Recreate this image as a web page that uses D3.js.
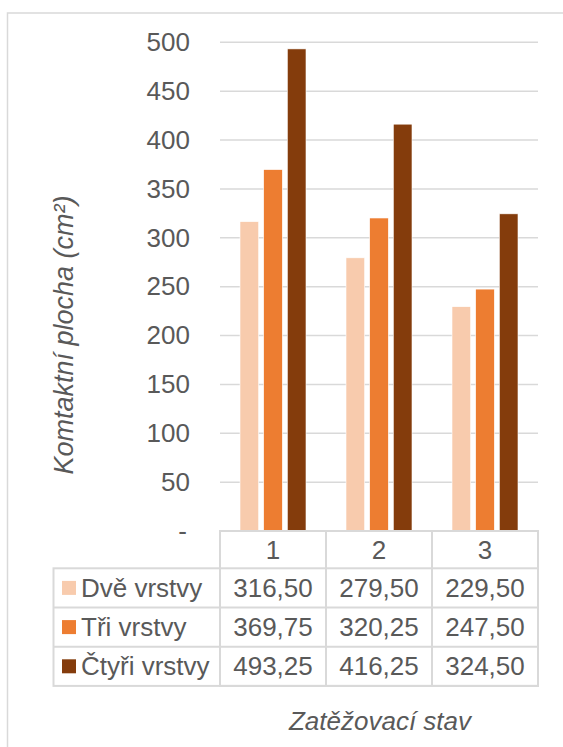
<!DOCTYPE html>
<html>
<head>
<meta charset="utf-8">
<script src="https://cdn.jsdelivr.net/npm/d3@7"></script>
<style>
	body { margin: 0; background: #fff; }
	svg text { font-family: "Liberation Sans", Arial, sans-serif; fill: #595959; }
</style>
</head>
<body>
<div id="chart"></div>
<script>
// data
var categories = ["1", "2", "3"];
var seriesNames = ["Dvě vrstvy", "Tři vrstvy", "Čtyři vrstvy"];
var dveVrstvy = [316.50, 279.50, 229.50];
var triVrstvy = [369.75, 320.25, 247.50];
var ctyriVrstvy = [493.25, 416.25, 324.50];
var yTicks = [0, 50, 100, 150, 200, 250, 300, 350, 400, 450, 500];
var colors = ["#F8CBAD", "#ED7D31", "#843C0C"];

var seriesValues = [dveVrstvy, triVrstvy, ctyriVrstvy];

var width = 563, height = 747;
var fontSize = 26;
var gridColor = "#d9d9d9";

var svg = d3.select("#chart").append("svg")
	.attr("width", width)
	.attr("height", height);

//chart border (runs off the right and bottom edge)
svg.append("rect")
	.attr("x", 7.5).attr("y", 13)
	.attr("width", width + 20).attr("height", height + 20)
	.attr("fill", "none")
	.attr("stroke", gridColor)
	.attr("stroke-width", 1.5);

var plotLeft = 220, plotRight = 538;
var plotTop = 42.3, plotBottom = 531;

var x = d3.scaleBand().domain(categories).range([plotLeft, plotRight]);
var xInner = d3.scaleBand().domain(d3.range(seriesNames.length))
	.range([20, x.bandwidth() - 20])
	.paddingInner(0.21);
var y = d3.scaleLinear().domain([0, 500]).range([plotBottom, plotTop]);

//gridlines
svg.append("g").attr("class", "grid")
	.selectAll("line").data(yTicks.filter(function(d){ return d > 0; })).enter().append("line")
	.attr("x1", plotLeft).attr("x2", plotRight)
	.attr("y1", function(d){ return y(d); })
	.attr("y2", function(d){ return y(d); })
	.attr("stroke", gridColor)
	.attr("stroke-width", 1.5);

//y axis labels, zero shown as "-" (accounting format)
var yAxis = d3.axisLeft(y).tickValues(yTicks).tickSize(0).tickPadding(30)
	.tickFormat(function(d){ return d === 0 ? "-" : d; });
var yAxisGroup = svg.append("g")
	.attr("transform", "translate(" + plotLeft + ",0)")
	.call(yAxis);
yAxisGroup.select(".domain").remove();
yAxisGroup.selectAll("text")
	.style("font-size", fontSize + "px")
	.attr("fill", "#595959");
yAxisGroup.selectAll(".tick").filter(function(d){ return d === 0; })
	.select("text").attr("dx", -3);

//bars
seriesValues.forEach(function(vals, s){
	svg.append("g").attr("class", "series" + s)
		.selectAll("rect").data(vals).enter().append("rect")
		.attr("x", function(d, i){ return x(categories[i]) + xInner(s); })
		.attr("y", function(d){ return y(d); })
		.attr("width", xInner.bandwidth())
		.attr("height", function(d){ return y(0) - y(d); })
		.attr("fill", colors[s])
		.attr("stroke", "#fff")
		.attr("stroke-width", 0.6);
});

//data table
var tableLeft = 53.5;
var rowH = 39.2;
var headTop = plotBottom;
var bodyTop = headTop + 37.3;
var tableBottom = bodyTop + rowH * seriesNames.length;
var table = svg.append("g").attr("class", "datatable");

//outer frames
table.append("rect")
	.attr("x", plotLeft).attr("y", headTop)
	.attr("width", plotRight - plotLeft).attr("height", tableBottom - headTop)
	.attr("fill", "none").attr("stroke", gridColor).attr("stroke-width", 2);
table.append("rect")
	.attr("x", tableLeft).attr("y", bodyTop)
	.attr("width", plotRight - tableLeft).attr("height", tableBottom - bodyTop)
	.attr("fill", "none").attr("stroke", gridColor).attr("stroke-width", 2);

//vertical separators
table.selectAll("line.vsep").data(categories.slice(1)).enter().append("line")
	.attr("class", "vsep")
	.attr("x1", function(d){ return x(d); }).attr("x2", function(d){ return x(d); })
	.attr("y1", headTop).attr("y2", tableBottom)
	.attr("stroke", gridColor).attr("stroke-width", 2);

//horizontal separators
table.selectAll("line.hsep").data(d3.range(1, seriesNames.length)).enter().append("line")
	.attr("class", "hsep")
	.attr("x1", tableLeft).attr("x2", plotRight)
	.attr("y1", function(d){ return bodyTop + d * rowH; })
	.attr("y2", function(d){ return bodyTop + d * rowH; })
	.attr("stroke", gridColor).attr("stroke-width", 2);

//category labels
table.selectAll("text.cat").data(categories).enter().append("text")
	.attr("class", "cat")
	.attr("x", function(d){ return x(d) + x.bandwidth() / 2; })
	.attr("y", (headTop + bodyTop) / 2)
	.attr("dy", "0.35em")
	.attr("text-anchor", "middle")
	.style("font-size", fontSize + "px")
	.text(function(d){ return d; });

function fmt(v){
	return v.toFixed(2).replace(".", ",");
}

seriesNames.forEach(function(name, s){
	var cy = bodyTop + rowH * s + rowH / 2;
	table.append("rect")
		.attr("x", 62).attr("y", cy - 7)
		.attr("width", 14).attr("height", 14)
		.attr("fill", colors[s]);
	table.append("text")
		.attr("x", 81)
		.attr("y", cy)
		.attr("dy", "0.35em")
		.style("font-size", fontSize + "px")
		.text(name);
	table.selectAll("text.val" + s).data(seriesValues[s]).enter().append("text")
		.attr("class", "val" + s)
		.attr("x", function(d, i){ return x(categories[i]) + x.bandwidth() / 2; })
		.attr("y", cy)
		.attr("dy", "0.35em")
		.attr("text-anchor", "middle")
		.style("font-size", fontSize + "px")
		.text(fmt);
});

//axis titles
svg.append("text")
	.attr("transform", "translate(73," + 335 + ") rotate(-90)")
	.attr("text-anchor", "middle")
	.style("font-size", "27px")
	.style("font-style", "italic")
	.text("Komtaktní plocha (cm²)");

svg.append("text")
	.attr("x", (plotLeft + plotRight) / 2 + 1)
	.attr("y", 730)
	.attr("text-anchor", "middle")
	.style("font-size", fontSize + "px")
	.style("font-style", "italic")
	.text("Zatěžovací stav");
</script>
</body>
</html>
